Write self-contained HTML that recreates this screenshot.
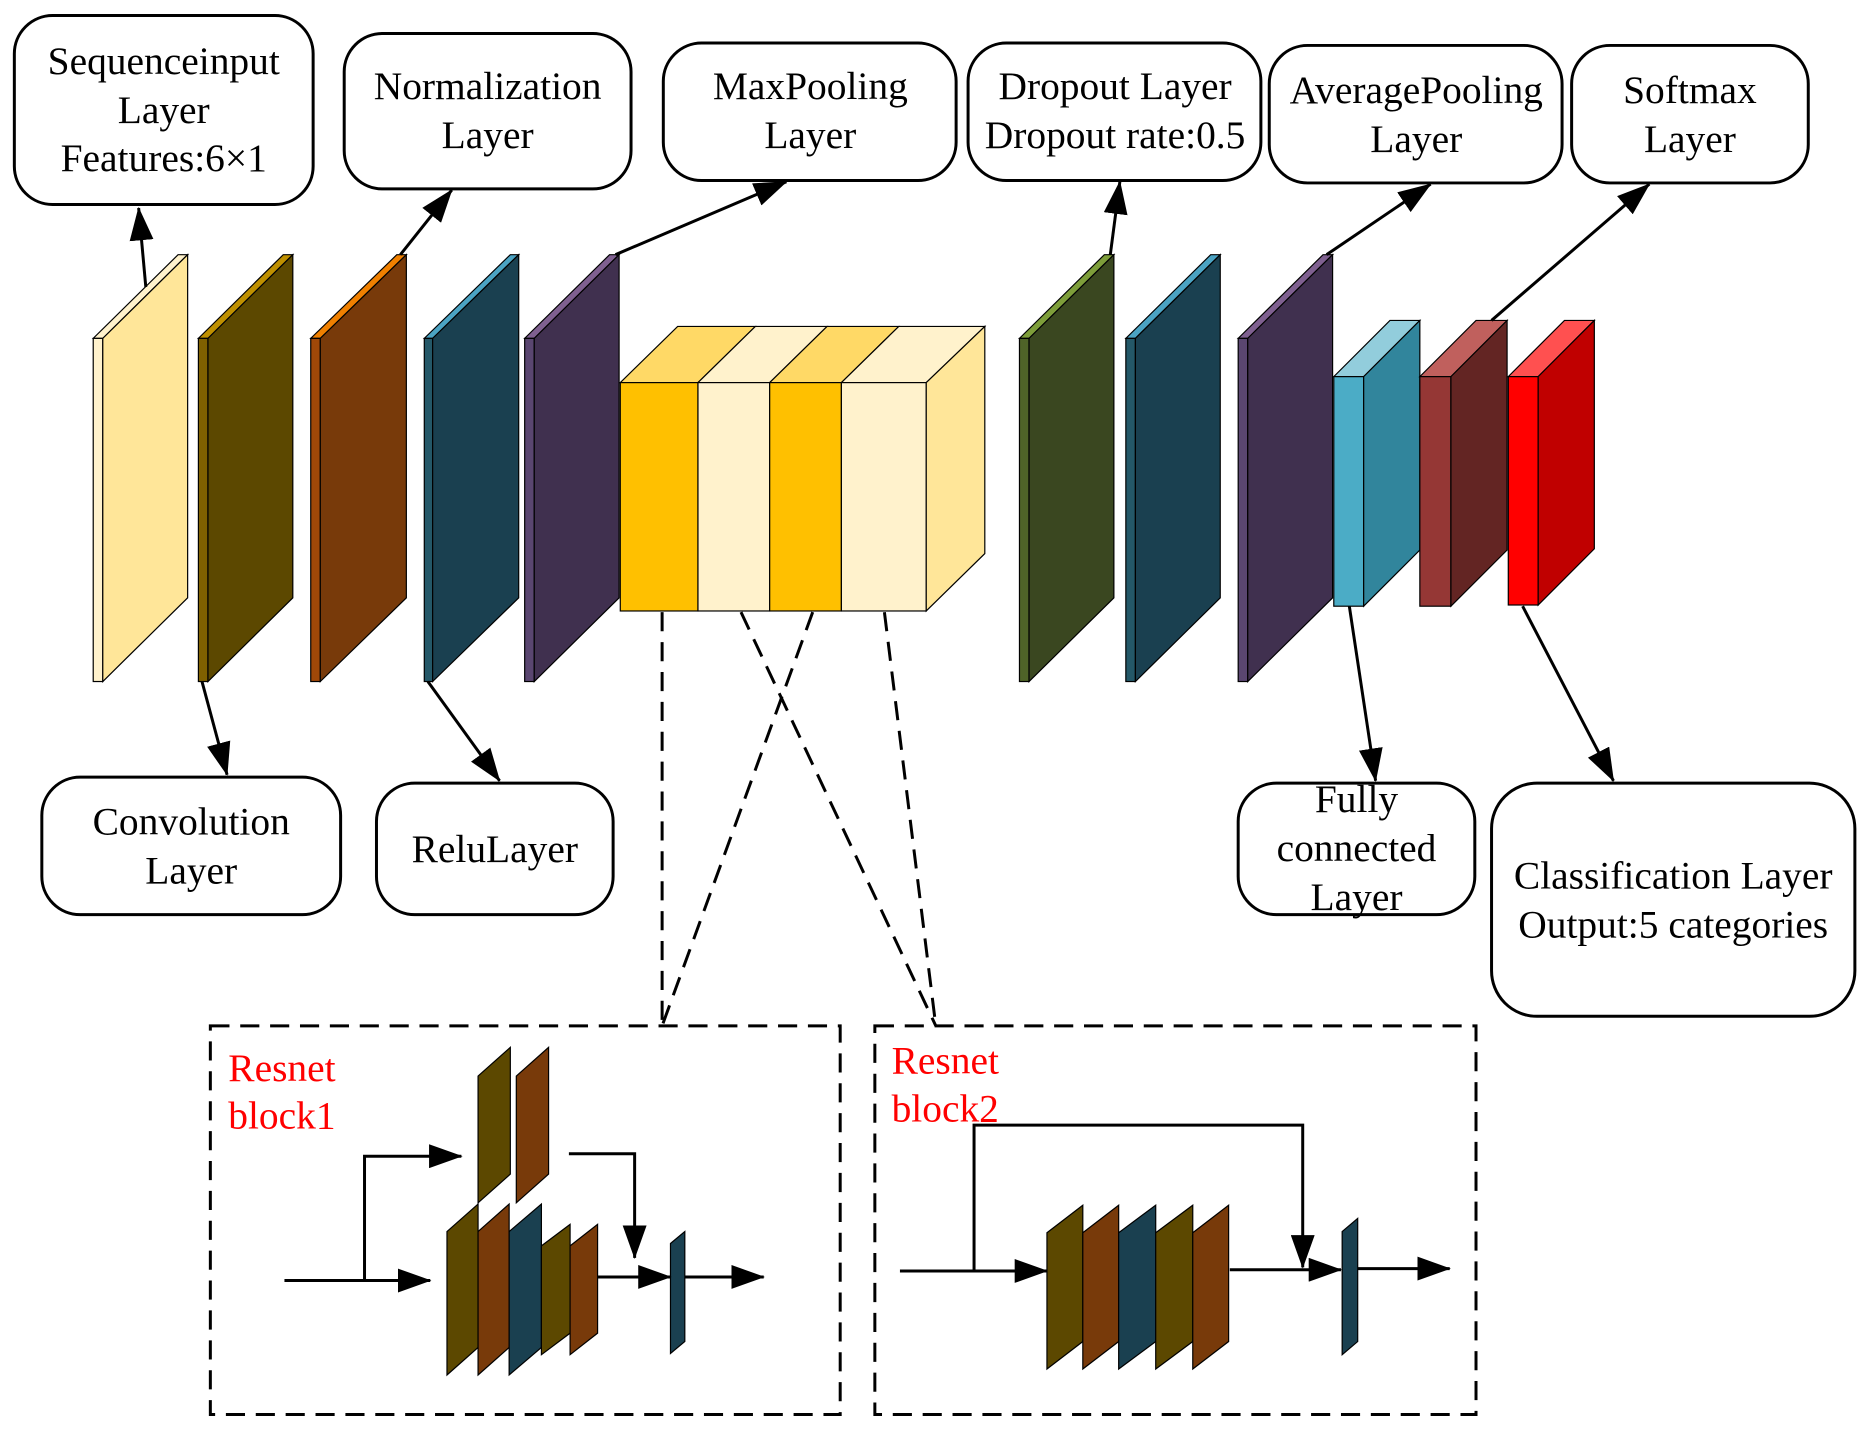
<!DOCTYPE html>
<html><head><meta charset="utf-8"><style>
html,body{margin:0;padding:0;background:#fff;}
svg{display:block;}
text{font-family:"Liberation Serif",serif;font-size:33px;fill:#000;text-anchor:middle;}
.r{fill:#f00;text-anchor:start;}
</style></head><body>
<svg width="1874" height="1430" viewBox="0 0 1568 1196" preserveAspectRatio="none">
<defs>
<marker id="b" markerWidth="28" markerHeight="20" refX="27" refY="10" orient="auto" markerUnits="userSpaceOnUse"><path d="M0,0 L28,10 L0,20 z" fill="#000"/></marker>
</defs>
<g stroke="#000" stroke-width="1">
<polygon points="78,283 86,283 157,213 149,213" fill="#FFF2CC"/><rect x="78" y="283" width="8" height="287" fill="#FFF2CC"/><polygon points="86,283 157,213 157,500 86,570" fill="#FFE699"/>
<polygon points="166,283 174,283 245,213 237,213" fill="#BF9000"/><rect x="166" y="283" width="8" height="287" fill="#7F6000"/><polygon points="174,283 245,213 245,500 174,570" fill="#5C4800"/>
<polygon points="260,283 268,283 340,213 332,213" fill="#F08000"/><rect x="260" y="283" width="8" height="287" fill="#A04808"/><polygon points="268,283 340,213 340,500 268,570" fill="#783A0A"/>
<polygon points="355,283 362,283 434,213 427,213" fill="#4BA3C3"/><rect x="355" y="283" width="7" height="287" fill="#245868"/><polygon points="362,283 434,213 434,500 362,570" fill="#1A4050"/>
<polygon points="439,283 447,283 518,213 510,213" fill="#7F6090"/><rect x="439" y="283" width="8" height="287" fill="#5A4670"/><polygon points="447,283 518,213 518,500 447,570" fill="#40304F"/>
<polygon points="853,283 861,283 932,213 924,213" fill="#7E9E3A"/><rect x="853" y="283" width="8" height="287" fill="#4F6328"/><polygon points="861,283 932,213 932,500 861,570" fill="#3A4720"/>
<polygon points="942,283 950,283 1021,213 1013,213" fill="#4BA3C3"/><rect x="942" y="283" width="8" height="287" fill="#245868"/><polygon points="950,283 1021,213 1021,500 950,570" fill="#1A4050"/>
<polygon points="1036,283 1044,283 1115,213 1107,213" fill="#7F6090"/><rect x="1036" y="283" width="8" height="287" fill="#5A4670"/><polygon points="1044,283 1115,213 1115,500 1044,570" fill="#40304F"/>
<polygon points="519,320 567,273 632,273 584,320" fill="#FFD966"/>
<polygon points="584,320 632,273 692,273 644,320" fill="#FFF2CC"/>
<polygon points="644,320 692,273 752,273 704,320" fill="#FFD966"/>
<polygon points="704,320 752,273 824,273 775,320" fill="#FFF2CC"/>
<rect x="519" y="320" width="65" height="191" fill="#FFC000"/>
<rect x="584" y="320" width="60" height="191" fill="#FFF2CC"/>
<rect x="644" y="320" width="60" height="191" fill="#FFC000"/>
<rect x="704" y="320" width="71" height="191" fill="#FFF2CC"/>
<polygon points="775,320 824,273 824,463 775,511" fill="#FFE699"/>
<polygon points="1116,315 1141,315 1188,268 1163,268" fill="#92CDDC"/><rect x="1116" y="315" width="25" height="192" fill="#4BACC6"/><polygon points="1141,315 1188,268 1188,460 1141,507" fill="#31859C"/>
<polygon points="1188,315 1214,315 1261,268 1235,268" fill="#C0605D"/><rect x="1188" y="315" width="26" height="192" fill="#953735"/><polygon points="1214,315 1261,268 1261,460 1214,507" fill="#632523"/>
<polygon points="1262,315 1287,315 1334,268 1309,268" fill="#FF5050"/><rect x="1262" y="315" width="25" height="191" fill="#FF0000"/><polygon points="1287,315 1334,268 1334,459 1287,506" fill="#C00000"/>
</g>
<g fill="#fff" stroke="#000" stroke-width="2.5">
<rect x="12" y="13" width="250" height="158" rx="32"/>
<rect x="288" y="28" width="240" height="130" rx="32"/>
<rect x="555" y="36" width="245" height="115" rx="32"/>
<rect x="810" y="36" width="245" height="115" rx="32"/>
<rect x="1062" y="38" width="245" height="115" rx="32"/>
<rect x="1315" y="38" width="198" height="115" rx="32"/>
<rect x="35" y="650" width="250" height="115" rx="32"/>
<rect x="315" y="655" width="198" height="110" rx="32"/>
<rect x="1036" y="655" width="198" height="110" rx="32"/>
<rect x="1248" y="655" width="304" height="195" rx="38"/>
</g>
<text x="137" y="62">Sequenceinput</text><text x="137" y="103">Layer</text><text x="137" y="143">Features:6×1</text>
<text x="408" y="83">Normalization</text><text x="408" y="124">Layer</text>
<text x="678" y="83">MaxPooling</text><text x="678" y="124">Layer</text>
<text x="933" y="83">Dropout Layer</text><text x="933" y="124">Dropout rate:0.5</text>
<text x="1185" y="86">AveragePooling</text><text x="1185" y="127">Layer</text>
<text x="1414" y="86">Softmax</text><text x="1414" y="127">Layer</text>
<text x="160" y="698">Convolution</text><text x="160" y="739">Layer</text>
<text x="414" y="721">ReluLayer</text>
<text x="1135" y="679">Fully</text><text x="1135" y="720">connected</text><text x="1135" y="761">Layer</text>
<text x="1400" y="743">Classification Layer</text><text x="1400" y="784">Output:5 categories</text>
<g stroke="#000" stroke-width="2.5" marker-end="url(#b)">
<line x1="122" y1="240" x2="116" y2="174"/>
<line x1="335" y1="213" x2="378" y2="159"/>
<line x1="515" y1="213" x2="658" y2="152"/>
<line x1="929" y1="213" x2="937" y2="152"/>
<line x1="1110" y1="213" x2="1197" y2="154"/>
<line x1="1248" y1="268" x2="1380" y2="154"/>
<line x1="169" y1="570" x2="190" y2="648"/>
<line x1="358" y1="570" x2="418" y2="653"/>
<line x1="1129" y1="507" x2="1151" y2="653"/>
<line x1="1274" y1="507" x2="1350" y2="653"/>
</g>
<g stroke="#000" stroke-width="2.5" fill="none" stroke-dasharray="16,9">
<line x1="554" y1="512" x2="554" y2="858"/>
<line x1="680" y1="512" x2="554" y2="858"/>
<line x1="620" y1="512" x2="783" y2="858"/>
<line x1="740" y1="512" x2="783" y2="858"/>
<rect x="176" y="858" width="527" height="325"/>
<rect x="732" y="858" width="503" height="325"/>
</g>
<text class="r" x="191" y="904">Resnet</text><text class="r" x="191" y="944">block1</text>
<text class="r" x="746" y="898">Resnet</text><text class="r" x="746" y="938">block2</text>
<g stroke="#000" stroke-width="1">
<polygon points="400,900 427,876 427,982 400,1006" fill="#5C4800"/>
<polygon points="432,900 459,876 459,982 432,1006" fill="#783A0A"/>
<polygon points="374,1030 400,1007 400,1127 374,1150" fill="#5C4800"/>
<polygon points="400,1030 426,1007 426,1127 400,1150" fill="#783A0A"/>
<polygon points="426,1030 453,1007 453,1127 426,1150" fill="#1A4050"/>
<polygon points="453,1042 477,1024 477,1115 453,1133" fill="#5C4800"/>
<polygon points="477,1042 500,1024 500,1115 477,1133" fill="#783A0A"/>
<polygon points="561,1040 573,1030 573,1122 561,1132" fill="#1A4050"/>
</g>
<g stroke="#000" stroke-width="2.5" fill="none" marker-end="url(#b)">
<line x1="238" y1="1071" x2="360" y2="1071"/>
<polyline points="305,1071 305,967 386,967"/>
<polyline points="476,965 531,965 531,1052"/>
<line x1="500" y1="1068" x2="561" y2="1068"/>
<line x1="573" y1="1068" x2="639" y2="1068"/>
<line x1="753" y1="1063" x2="876" y2="1063"/>
<polyline points="815,1063 815,941 1090,941 1090,1060"/>
<line x1="1029" y1="1062" x2="1122" y2="1062"/>
<line x1="1136" y1="1061" x2="1213" y2="1061"/>
</g>
<g stroke="#000" stroke-width="1">
<polygon points="876,1031 906,1008 906,1122 876,1145" fill="#5C4800"/>
<polygon points="906,1031 936,1008 936,1122 906,1145" fill="#783A0A"/>
<polygon points="936,1031 967,1008 967,1122 936,1145" fill="#1A4050"/>
<polygon points="967,1031 998,1008 998,1122 967,1145" fill="#5C4800"/>
<polygon points="998,1031 1028,1008 1028,1122 998,1145" fill="#783A0A"/>
<polygon points="1123,1030 1136,1019 1136,1122 1123,1133" fill="#1A4050"/>
</g>
</svg>
</body></html>
